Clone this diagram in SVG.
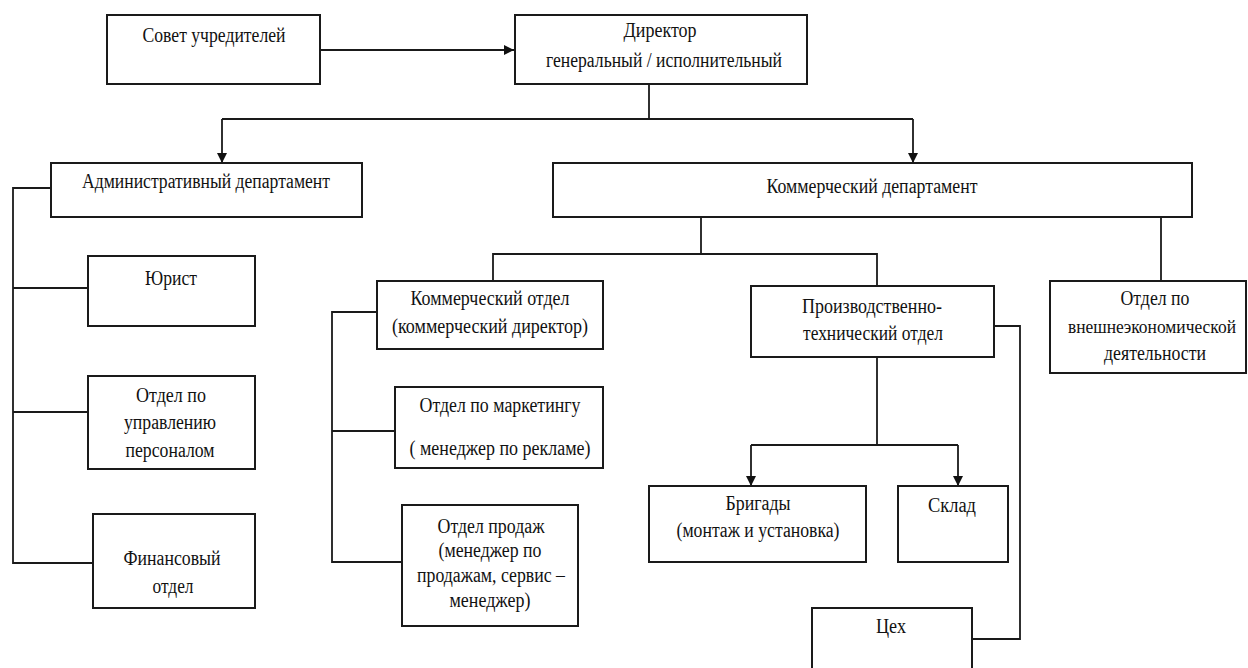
<svg xmlns="http://www.w3.org/2000/svg" width="1248" height="668" viewBox="0 0 1248 668">
<style>
.box{fill:#fff;stroke:#1a1a1a;stroke-width:2}
.ln{fill:none;stroke:#1a1a1a;stroke-width:1.8}
.t text{font-size:20px;fill:#111;text-anchor:middle}
</style>
<defs>
<marker id="ah" viewBox="0 0 10 10" refX="10" refY="5" markerWidth="10" markerHeight="10" markerUnits="userSpaceOnUse" orient="auto">
<path d="M0,0 L10,5 L0,10 Z" fill="#111"/>
</marker>
</defs>
<rect width="1248" height="668" fill="#fff"/>
<g id="connectors">
<path class="ln" d="M320,50 H514" marker-end="url(#ah)"/>
<path class="ln" d="M649,84 V119"/>
<path class="ln" d="M222,119 H913"/>
<path class="ln" d="M222,119 V163" marker-end="url(#ah)"/>
<path class="ln" d="M913,119 V163" marker-end="url(#ah)"/>
<path class="ln" d="M51,188 H13 V563 H93"/>
<path class="ln" d="M13,288 H88"/>
<path class="ln" d="M13,412 H88"/>
<path class="ln" d="M701,217 V254"/>
<path class="ln" d="M493,281 V254 H877 V286"/>
<path class="ln" d="M1161,217 V281"/>
<path class="ln" d="M377,312 H332 V562 H402"/>
<path class="ln" d="M332,431 H395"/>
<path class="ln" d="M877,357 V445"/>
<path class="ln" d="M751,445 H958"/>
<path class="ln" d="M751,445 V486" marker-end="url(#ah)"/>
<path class="ln" d="M958,445 V486" marker-end="url(#ah)"/>
<path class="ln" d="M994,326 H1020 V639 H972"/>
</g>
<g class="t" font-family="'Liberation Serif', 'DejaVu Serif', serif">
<g id="sovet">
<rect class="box" x="107" y="15" width="213" height="69"/>
<text x="214" y="42" textLength="143" lengthAdjust="spacingAndGlyphs">Совет учредителей</text>
</g>
<g id="director">
<rect class="box" x="515" y="15" width="292" height="69"/>
<text x="660" y="37" textLength="73" lengthAdjust="spacingAndGlyphs">Директор</text>
<text x="664" y="67" textLength="236" lengthAdjust="spacingAndGlyphs">генеральный / исполнительный</text>
</g>
<g id="admin">
<rect class="box" x="51" y="163" width="311" height="54"/>
<text x="206" y="188" textLength="248" lengthAdjust="spacingAndGlyphs">Административный департамент</text>
</g>
<g id="commdept">
<rect class="box" x="553" y="163" width="639" height="54"/>
<text x="872" y="193" textLength="211" lengthAdjust="spacingAndGlyphs">Коммерческий департамент</text>
</g>
<g id="jurist">
<rect class="box" x="88" y="256" width="167" height="70"/>
<text x="171" y="285" textLength="52" lengthAdjust="spacingAndGlyphs">Юрист</text>
</g>
<g id="hr">
<rect class="box" x="88" y="376" width="167" height="93"/>
<text x="171" y="402" textLength="70" lengthAdjust="spacingAndGlyphs">Отдел по</text>
<text x="170" y="429" textLength="92" lengthAdjust="spacingAndGlyphs">управлению</text>
<text x="170" y="457" textLength="89" lengthAdjust="spacingAndGlyphs">персоналом</text>
</g>
<g id="finance">
<rect class="box" x="93" y="514" width="162" height="94"/>
<text x="172" y="565" textLength="97" lengthAdjust="spacingAndGlyphs">Финансовый</text>
<text x="173" y="593" textLength="41" lengthAdjust="spacingAndGlyphs">отдел</text>
</g>
<g id="commotdel">
<rect class="box" x="377" y="281" width="226" height="68"/>
<text x="490" y="305" textLength="159" lengthAdjust="spacingAndGlyphs">Коммерческий отдел</text>
<text x="490" y="333" textLength="196" lengthAdjust="spacingAndGlyphs">(коммерческий директор)</text>
</g>
<g id="marketing">
<rect class="box" x="395" y="387" width="208" height="81"/>
<text x="500" y="412" textLength="161" lengthAdjust="spacingAndGlyphs">Отдел по маркетингу</text>
<text x="500" y="455" textLength="181" lengthAdjust="spacingAndGlyphs">( менеджер по рекламе)</text>
</g>
<g id="sales">
<rect class="box" x="402" y="505" width="176" height="121"/>
<text x="491" y="533" textLength="107" lengthAdjust="spacingAndGlyphs">Отдел продаж</text>
<text x="490" y="557" textLength="103" lengthAdjust="spacingAndGlyphs">(менеджер по</text>
<text x="491" y="582" textLength="148" lengthAdjust="spacingAndGlyphs">продажам, сервис –</text>
<text x="490" y="607" textLength="81" lengthAdjust="spacingAndGlyphs">менеджер)</text>
</g>
<g id="pto">
<rect class="box" x="751" y="286" width="243" height="71"/>
<text x="872" y="313" textLength="140" lengthAdjust="spacingAndGlyphs">Производственно-</text>
<text x="873" y="340" textLength="140" lengthAdjust="spacingAndGlyphs">технический отдел</text>
</g>
<g id="ved">
<rect class="box" x="1050" y="281" width="196" height="92"/>
<text x="1155" y="305" textLength="69" lengthAdjust="spacingAndGlyphs">Отдел по</text>
<text x="1152" y="333" font-size="18" style="font-size:18px" textLength="168" lengthAdjust="spacingAndGlyphs">внешнеэкономической</text>
<text x="1155" y="360" textLength="102" lengthAdjust="spacingAndGlyphs">деятельности</text>
</g>
<g id="brigady">
<rect class="box" x="649" y="486" width="217" height="76"/>
<text x="758" y="510" textLength="65" lengthAdjust="spacingAndGlyphs">Бригады</text>
<text x="758" y="537" textLength="163" lengthAdjust="spacingAndGlyphs">(монтаж и установка)</text>
</g>
<g id="sklad">
<rect class="box" x="898" y="486" width="110" height="76"/>
<text x="952" y="512" textLength="48" lengthAdjust="spacingAndGlyphs">Склад</text>
</g>
<g id="ceh">
<rect class="box" x="812" y="608" width="160" height="80"/>
<text x="891" y="633" textLength="30" lengthAdjust="spacingAndGlyphs">Цех</text>
</g>
</g>
</svg>
